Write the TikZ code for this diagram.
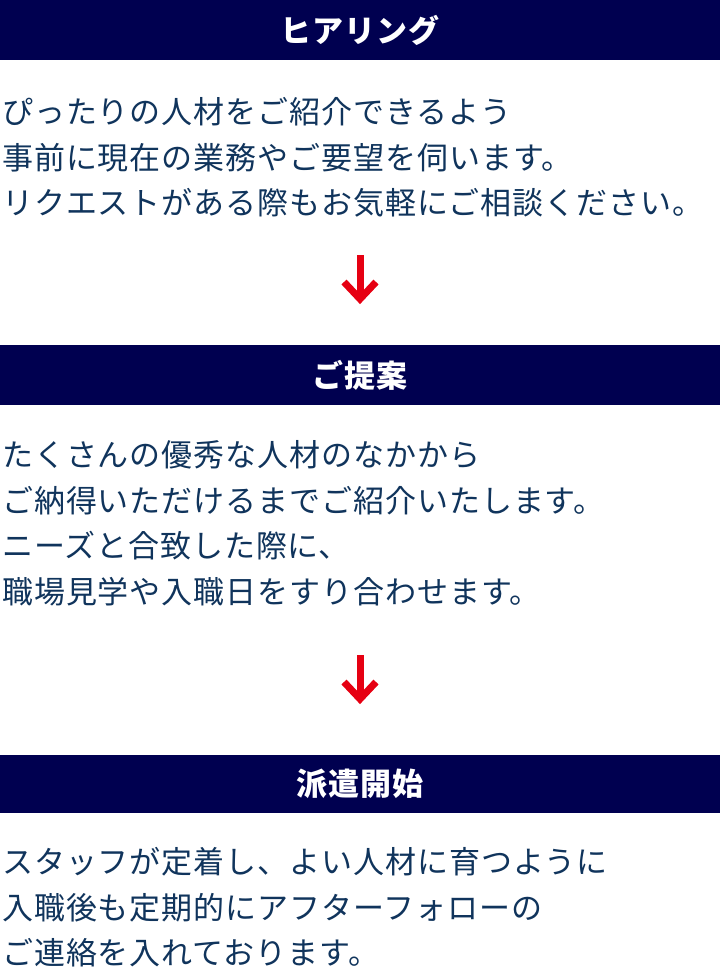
\documentclass[tikz,border=0pt]{standalone}
\usepackage{fontspec}
\setmainfont{Noto Sans CJK JP}
\newfontfamily\bodyfont{Noto Sans CJK JP}[LetterSpace=3]
\newfontfamily\headfont{Noto Sans CJK JP}[LetterSpace=4]
\definecolor{barnavy}{RGB}{0,0,80}
\definecolor{txtnavy}{RGB}{16,52,92}
\definecolor{arrred}{RGB}{230,0,18}
\tikzset{
  bar/.style={fill=barnavy, draw=none, inner sep=0pt, minimum width=720pt, text=white,
    font=\headfont\fontsize{31}{31}\selectfont\bfseries},
  body/.style={anchor=base west, inner sep=0pt, text=txtnavy, font=\bodyfont\fontsize{31}{46}\selectfont},
  downarrow/.style={draw=arrred, line width=7pt},
}
\begin{document}
\begin{tikzpicture}[x=1pt, y=-1pt]
\useasboundingbox (0,0) rectangle (720,969);
% headers
\node[bar, minimum height=60pt] (h1) at (360,30) {ヒアリング};
\node[bar, minimum height=60pt] (h2) at (360,375) {ご提案};
\node[bar, minimum height=58pt] (h3) at (360,784) {派遣開始};
% section 1
\node[body] (s1a) at (2,123) {ぴったりの人材をご紹介できるよう};
\node[body] (s1b) at (2,169) {事前に現在の業務やご要望を伺います。};
\node[body] (s1c) at (2,214) {リクエストがある際もお気軽にご相談ください。};
% section 2
\node[body] (s2a) at (2,466) {たくさんの優秀な人材のなかから};
\node[body] (s2b) at (2,512) {ご納得いただけるまでご紹介いたします。};
\node[body] (s2c) at (2,557) {ニーズと合致した際に、};
\node[body] (s2d) at (2,603) {職場見学や入職日をすり合わせます。};
% section 3
\node[body] (s3a) at (2,873) {スタッフが定着し、よい人材に育つように};
\node[body] (s3b) at (2,919) {入職後も定期的にアフターフォローの};
\node[body] (s3c) at (2,964) {ご連絡を入れております。};
% arrows
\coordinate (a1top) at (360,255);
\coordinate (a1end) at (360,299);
\coordinate (a1l) at (344,282);
\coordinate (a1r) at (376,282);
\draw[downarrow] (a1top) -- (a1end);
\draw[downarrow, miter limit=10] (a1l) -- (a1end) -- (a1r);
\coordinate (a2top) at (360,655);
\coordinate (a2end) at (360,699);
\coordinate (a2l) at (344,682);
\coordinate (a2r) at (376,682);
\draw[downarrow] (a2top) -- (a2end);
\draw[downarrow, miter limit=10] (a2l) -- (a2end) -- (a2r);
\end{tikzpicture}
\end{document}
